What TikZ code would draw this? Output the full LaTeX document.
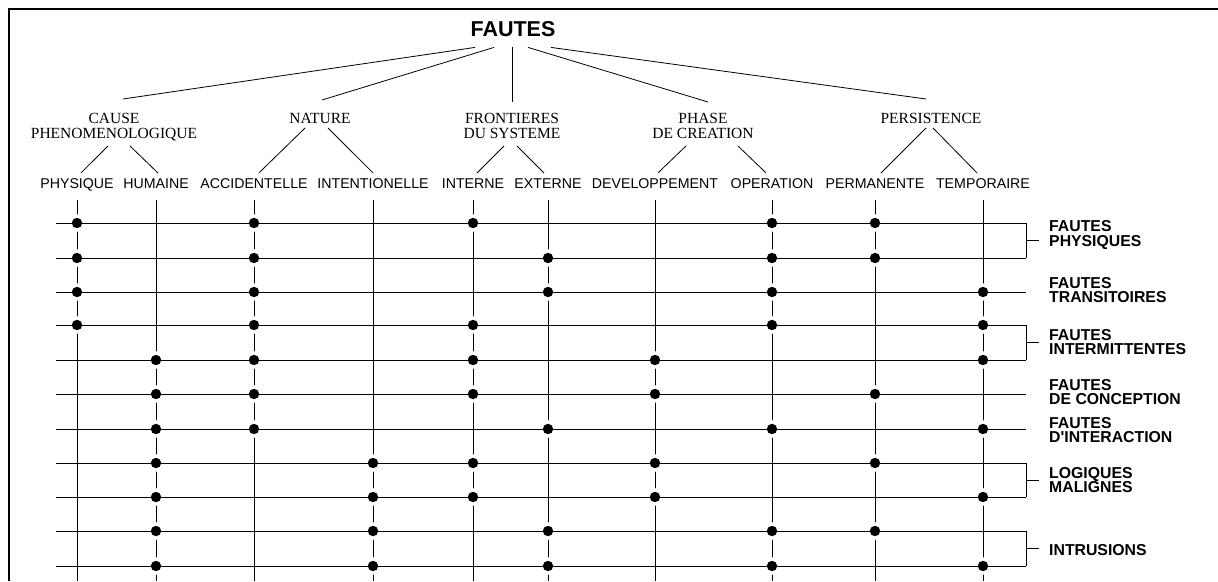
\documentclass[tikz,border=0pt]{standalone}
\usepackage{fontspec}
\setmainfont{Liberation Serif}
\setsansfont{Liberation Sans}
\usetikzlibrary{calc}
\begin{document}
\begin{tikzpicture}[x=1pt,y=-1pt,
  ln/.style={line width=0.8pt},
  frame/.style={line width=2.8pt},
  titlebox/.style={anchor=base,inner sep=0pt,font=\sffamily\bfseries\fontsize{21.5}{24}\selectfont},
  catbox/.style={anchor=north,inner sep=0pt,align=center,font=\fontsize{15.5}{15}\selectfont},
  leafbox/.style={anchor=base,inner sep=0pt,font=\sffamily\fontsize{14.2}{16}\selectfont},
  labbox/.style={anchor=west,inner sep=0pt,align=left,font=\sffamily\bfseries\fontsize{15.8}{14.8}\selectfont},
  halo/.style={fill=white},
  dot/.style={fill=black}]
\useasboundingbox (0,0) rectangle (1218,581);
\draw[frame] (9,581) -- (9,9) -- (1218,9);

% title
\node[titlebox] (fautes) at (513,36) {FAUTES};

% categories
\node[catbox] (cause) at (114,113) {CAUSE\\PHENOMENOLOGIQUE};
\node[catbox] (nature) at (320,113) {NATURE};
\node[catbox] (front) at (512,113) {FRONTIERES\\DU SYSTEME};
\node[catbox] (phase) at (703,113) {PHASE\\DE CREATION};
\node[catbox] (persist) at (931,113) {PERSISTENCE};

% leaves
\node[leafbox] (physique) at (77,188) {PHYSIQUE};
\node[leafbox] (humaine) at (156,188) {HUMAINE};
\node[leafbox] (accid) at (254,188) {ACCIDENTELLE};
\node[leafbox] (intent) at (373,188) {INTENTIONELLE};
\node[leafbox] (interne) at (473,188) {INTERNE};
\node[leafbox] (externe) at (548,188) {EXTERNE};
\node[leafbox] (devel) at (655,188) {DEVELOPPEMENT};
\node[leafbox] (operation) at (772,188) {OPERATION};
\node[leafbox] (perm) at (875,188) {PERMANENTE};
\node[leafbox] (temp) at (983,188) {TEMPORAIRE};

% title -> categories
\draw[ln] ([xshift=-38pt,yshift=-11pt]fautes.south) -- ([xshift=9pt,yshift=14pt]cause.north);
\draw[ln] ([xshift=-19pt,yshift=-11pt]fautes.south) -- ([xshift=2pt,yshift=13pt]nature.north);
\draw[ln] ([xshift=-1pt,yshift=-11pt]fautes.south) -- ([xshift=0pt,yshift=11pt]front.north);
\draw[ln] ([xshift=15pt,yshift=-11pt]fautes.south) -- ([xshift=5pt,yshift=11pt]phase.north);
\draw[ln] ([xshift=38pt,yshift=-11pt]fautes.south) -- ([xshift=-5pt,yshift=14pt]persist.north);

% categories -> leaves
\draw[ln] ([xshift=-6pt,yshift=-33pt]cause.north) -- ([xshift=4pt,yshift=5pt]physique.north);
\draw[ln] ([xshift=16pt,yshift=-33pt]cause.north) -- ([xshift=2pt,yshift=5pt]humaine.north);
\draw[ln] ([xshift=-15pt,yshift=-15pt]nature.north) -- ([xshift=5pt,yshift=5pt]accid.north);
\draw[ln] ([xshift=8pt,yshift=-15pt]nature.north) -- ([xshift=0pt,yshift=5pt]intent.north);
\draw[ln] ([xshift=-8pt,yshift=-33pt]front.north) -- ([xshift=4pt,yshift=5pt]interne.north);
\draw[ln] ([xshift=5pt,yshift=-33pt]front.north) -- ([xshift=-4pt,yshift=5pt]externe.north);
\draw[ln] ([xshift=-17pt,yshift=-33pt]phase.north) -- ([xshift=3pt,yshift=5pt]devel.north);
\draw[ln] ([xshift=35pt,yshift=-33pt]phase.north) -- ([xshift=-6pt,yshift=5pt]operation.north);
\draw[ln] ([xshift=-5pt,yshift=-15pt]persist.north) -- ([xshift=6pt,yshift=5pt]perm.north);
\draw[ln] ([xshift=2pt,yshift=-15pt]persist.north) -- ([xshift=-6pt,yshift=5pt]temp.north);

% vertical lines
\coordinate (bot) at (0,581);
\foreach \c in {physique,humaine,accid,intent,interne,externe,devel,operation,perm,temp}
  \draw[ln] ([yshift=-12pt]\c.base) -- (\c.base |- bot);

% row coordinates
\foreach \y [count=\i] in {223,258,292,325,360,394,429,463,497,531,566} {
  \coordinate (r\i) at (56,\y);
  \coordinate (e\i) at (1026,\y);
}

% halos
\foreach \i/\cols in {
  1/{physique,accid,interne,operation,perm},
  2/{physique,accid,externe,operation,perm},
  3/{physique,accid,externe,operation,temp},
  4/{physique,accid,interne,operation,temp},
  5/{humaine,accid,interne,devel,temp},
  6/{humaine,accid,interne,devel,perm},
  7/{humaine,accid,externe,operation,temp},
  8/{humaine,intent,interne,devel,perm},
  9/{humaine,intent,interne,devel,temp},
  10/{humaine,intent,externe,operation,perm},
  11/{humaine,intent,externe,operation,temp}} {
  \foreach \c in \cols
    \fill[halo] (\c |- r\i) ellipse [x radius=5.8pt, y radius=8.8pt];
}

% horizontal lines
\foreach \i in {1,...,11}
  \draw[ln] (r\i) -- (e\i);

% dots
\foreach \i/\cols in {
  1/{physique,accid,interne,operation,perm},
  2/{physique,accid,externe,operation,perm},
  3/{physique,accid,externe,operation,temp},
  4/{physique,accid,interne,operation,temp},
  5/{humaine,accid,interne,devel,temp},
  6/{humaine,accid,interne,devel,perm},
  7/{humaine,accid,externe,operation,temp},
  8/{humaine,intent,interne,devel,perm},
  9/{humaine,intent,interne,devel,temp},
  10/{humaine,intent,externe,operation,perm},
  11/{humaine,intent,externe,operation,temp}} {
  \foreach \c in \cols
    \fill[dot] (\c |- r\i) circle [radius=5.2pt];
}

% brackets
\foreach \a/\b in {1/2,4/5,8/9,10/11} {
  \draw[ln] (e\a) -- (e\b);
  \draw[ln] ($(e\a)!0.5!(e\b)$) -- ++(13,0);
}

% labels
\node[labbox] (l1) at (1049,235) {FAUTES\\PHYSIQUES};
\node[labbox] (l2) at (1049,290) {FAUTES\\TRANSITOIRES};
\node[labbox] (l3) at (1049,342) {FAUTES\\INTERMITTENTES};
\node[labbox] (l4) at (1049,392) {FAUTES\\DE CONCEPTION};
\node[labbox] (l5) at (1049,430) {FAUTES\\D\textquotesingle INTERACTION};
\node[labbox] (l6) at (1049,480) {LOGIQUES\\MALIGNES};
\node[labbox] (l7) at (1049,550) {INTRUSIONS};
\end{tikzpicture}
\end{document}
